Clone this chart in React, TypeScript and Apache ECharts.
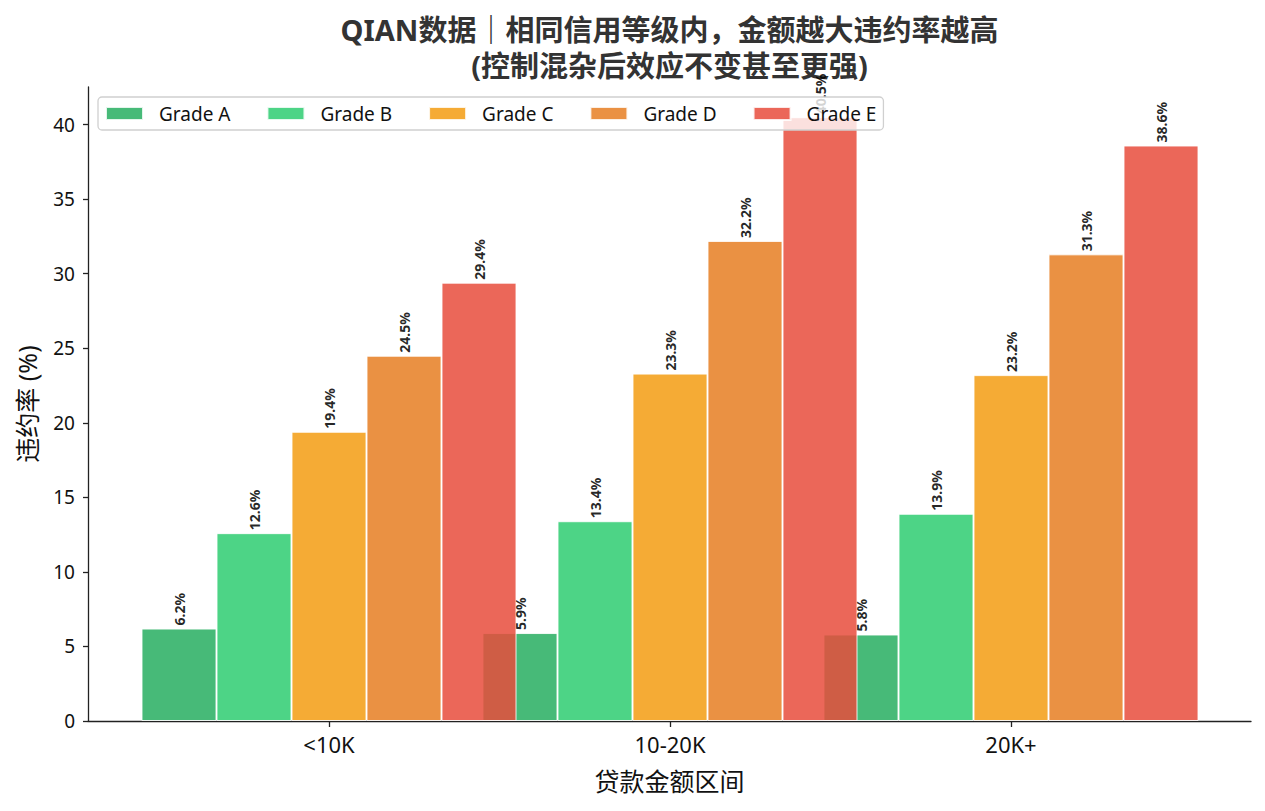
import React, { useEffect, useRef } from "react";
import * as echarts from "echarts";

const categories = ["<10K", "10-20K", "20K+"];
const gradeNames = ["Grade A", "Grade B", "Grade C", "Grade D", "Grade E"];
const gradeA = [6.2, 5.9, 5.8];
const gradeB = [12.6, 13.4, 13.9];
const gradeC = [19.4, 23.3, 23.2];
const gradeD = [24.5, 32.2, 31.3];
const gradeE = [29.4, 40.5, 38.6];
const yTicks = [0, 5, 10, 15, 20, 25, 30, 35, 40];
const yMax = 42.525;

const titleLine1 = "QIAN数据｜相同信用等级内，金额越大违约率越高";
const titleLine2 = "(控制混杂后效应不变甚至更强)";
const xName = "贷款金额区间";
const yName = "违约率 (%)";

const FONT = "'Noto Sans', 'Noto Sans CJK SC', sans-serif";

export default function App() {
  const ref = useRef<HTMLDivElement>(null);
  useEffect(() => {
    if (!ref.current) return;
    const chart = echarts.init(ref.current, undefined, { renderer: "svg" });
    const colors = ["#27ae60", "#2ecc71", "#f39c12", "#e67e22", "#e74c3c"];
    const seriesData = [gradeA, gradeB, gradeC, gradeD, gradeE];
    const axisColor = "#222";
    const option = {
      animation: false,
      textStyle: { fontFamily: FONT },
      grid: [
        { left: 88, right: 14, top: 87, bottom: 90 },
        { left: 158.5, right: 83.5, top: 87, bottom: 90 },
      ],
      xAxis: [
        {
          gridIndex: 0,
          type: "value",
          min: 0,
          max: 1,
          axisLine: { show: true, lineStyle: { color: axisColor, width: 1.3 } },
          axisTick: { show: false },
          axisLabel: { show: false },
          splitLine: { show: false },
        },
        {
          gridIndex: 1,
          type: "category",
          data: categories,
          boundaryGap: true,
          axisLine: { show: false },
          axisTick: { show: true, alignWithLabel: true, length: 6, lineStyle: { color: axisColor, width: 1.3 } },
          axisLabel: { fontSize: 22, color: "#111", margin: 12, fontFamily: FONT },
          splitLine: { show: false },
        },
      ],
      yAxis: [
        {
          gridIndex: 0,
          type: "value",
          min: 0,
          max: yMax,
          axisLine: { show: true, lineStyle: { color: axisColor, width: 1.3 } },
          axisTick: { show: true, length: 5, customValues: yTicks, lineStyle: { color: axisColor, width: 1.3 } },
          axisLabel: { customValues: yTicks, fontSize: 19, color: "#111", margin: 13, fontFamily: FONT },
          splitLine: { show: false },
        },
        {
          gridIndex: 1,
          type: "value",
          min: 0,
          max: yMax,
          show: false,
          splitLine: { show: false },
        },
      ],
      legend: {
        left: 98,
        top: 97,
        orient: "horizontal",
        data: gradeNames,
        icon: "rect",
        itemWidth: 37,
        itemHeight: 13,
        itemGap: 36,
        padding: [7, 7, 7, 7],
        backgroundColor: "rgba(255,255,255,0.8)",
        borderColor: "#d0d0d0",
        borderWidth: 1.3,
        borderRadius: 4,
        textStyle: { fontSize: 19, color: "#111", fontFamily: FONT, padding: [0, 0, 0, 11] },
        z: 10,
      },
      series: gradeNames.map((name, i) => ({
        name,
        type: "bar",
        xAxisIndex: 1,
        yAxisIndex: 1,
        data: seriesData[i],
        barWidth: 75,
        barGap: "0%",
        clip: false,
        itemStyle: { color: colors[i], opacity: 0.85, borderColor: "#fff", borderWidth: 1 },
        label: {
          show: true,
          position: "top",
          rotate: 90,
          align: "left",
          verticalAlign: "middle",
          distance: 3,
          fontSize: 14,
          fontWeight: "bold",
          color: "#000",
          fontFamily: FONT,
          formatter: (p: any) => Number(p.value).toFixed(1) + "%",
        },
      })),
      graphic: [
        {
          type: "text",
          x: 669.5,
          y: 29,
          style: {
            text: titleLine1,
            font: `bold 29px ${FONT}`,
            fill: "#333",
            textAlign: "center",
            textVerticalAlign: "middle",
          },
        },
        {
          type: "text",
          x: 669.5,
          y: 65,
          style: {
            text: titleLine2,
            font: `bold 29px ${FONT}`,
            fill: "#333",
            textAlign: "center",
            textVerticalAlign: "middle",
          },
        },
        {
          type: "text",
          x: 669.5,
          y: 781,
          style: {
            text: xName,
            font: `25px ${FONT}`,
            fill: "#111",
            textAlign: "center",
            textVerticalAlign: "middle",
          },
        },
        {
          type: "text",
          x: 27,
          y: 404,
          rotation: Math.PI / 2,
          style: {
            text: yName,
            font: `25px ${FONT}`,
            fill: "#111",
            textAlign: "center",
            textVerticalAlign: "middle",
          },
        },
      ],
    };
    chart.setOption(option as any);
    return () => chart.dispose();
  }, []);
  return (
    <div
      ref={ref}
      style={{ position: "absolute", left: 0, top: 0, width: 1265, height: 811, background: "#fff" }}
    />
  );
}
